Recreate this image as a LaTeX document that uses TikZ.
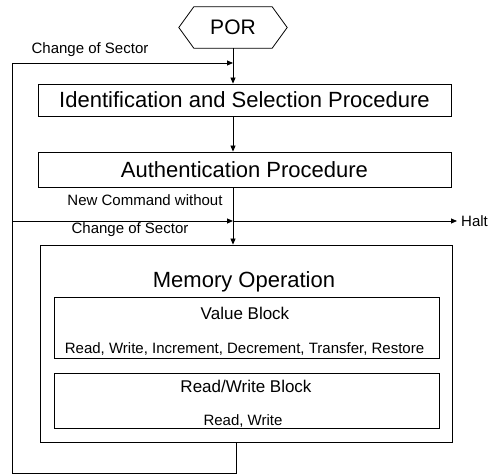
\documentclass[tikz,border=0pt]{standalone}
\usepackage{fontspec}
\setmainfont{Liberation Sans}
\usetikzlibrary{arrows.meta,calc}
\begin{document}
\begin{tikzpicture}[x=1pt,y=-1pt,
  line/.style={line width=0.8pt},
  arr/.style={line width=0.8pt,-{Triangle[length=6pt,width=5pt]}},
  box/.style={draw,line width=0.8pt,inner sep=0pt},
  big/.style={font=\fontsize{22}{26}\selectfont,inner sep=0pt},
  mid/.style={font=\fontsize{17}{20}\selectfont,inner sep=0pt},
  small/.style={font=\fontsize{15}{18}\selectfont,inner sep=0pt}]
\useasboundingbox (0,0) rectangle (496,476);

% start node
\node[font=\fontsize{21}{25}\selectfont,inner sep=0pt,minimum width=108pt,minimum height=41pt] (por) at (233,27.5) {POR};
\draw[line] (por.west) -- ($(por.north west)+(15,0)$) -- ($(por.north east)+(-15,0)$) -- (por.east)
  -- ($(por.south east)+(-15,0)$) -- ($(por.south west)+(15,0)$) -- cycle;

% boxes
\node[box,big,minimum width=413pt,minimum height=32pt] (idbox) at (244.5,100) {Identification and Selection Procedure};
\node[box,big,minimum width=413pt,minimum height=35pt] (authbox) at (244.5,169.5) {Authentication Procedure};
\node[box,minimum width=412pt,minimum height=197pt] (membox) at (246,343.5) {};
\node[big] (memt) at (244,282) {Memory Operation};
\node[box,minimum width=385pt,minimum height=61pt] (valbox) at (246.5,327.5) {};
\node[mid] (valt) at (245,313) {Value Block};
\node[small] (valops) at (244.5,349) {Read, Write, Increment, Decrement, Transfer, Restore};
\node[box,minimum width=385pt,minimum height=55pt] (rwbox) at (246.5,400.5) {};
\node[mid] (rwt) at (246,386) {Read/Write Block};
\node[small] (rwops) at (243,421) {Read, Write};

% labels
\node[small] (lab1) at (90,50) {Change of Sector};
\node[small] (lab2) at (145,200) {New Command without};
\node[small] (lab3) at (130,230) {Change of Sector};
\node[small,anchor=west] (halt) at (461,221) {Halt};

% junctions
\coordinate (j1) at (233,63);
\coordinate (j2) at (233,221);
\coordinate (lefttop) at (12,63);
\coordinate (leftmid) at (12,221);
\coordinate (leftbot) at (12,473);
\coordinate (botr) at (236,473);

% connectors
\draw[line] (por.south) -- (j1);
\draw[arr] (j1) -- (j1 |- idbox.north);
\draw[arr] (j1 |- idbox.south) -- (j1 |- authbox.north);
\draw[line] (j1 |- authbox.south) -- (j2);
\draw[arr] (j2) -- (j2 |- membox.north);
\draw[arr] (j2) -- ([xshift=-4pt]halt.west);
\draw[line] (botr |- membox.south) -- (botr) -- (leftbot) -- (leftmid);
\draw[arr] (leftmid) -- (j2);
\draw[line] (leftmid) -- (lefttop);
\draw[arr] (lefttop) -- (j1);
\end{tikzpicture}
\end{document}
